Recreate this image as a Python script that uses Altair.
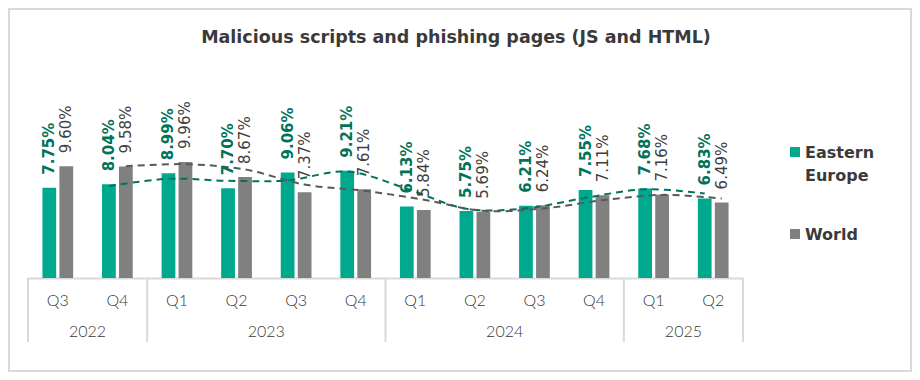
import altair as alt
import pandas as pd

# ---- data ----
quarters = ["Q3", "Q4", "Q1", "Q2", "Q3", "Q4", "Q1", "Q2", "Q3", "Q4", "Q1", "Q2"]
years = ["2022", "2022", "2023", "2023", "2023", "2023", "2024", "2024", "2024", "2024", "2025", "2025"]
eastern_europe = [7.75, 8.04, 8.99, 7.70, 9.06, 9.21, 6.13, 5.75, 6.21, 7.55, 7.68, 6.83]
world = [9.60, 9.58, 9.96, 8.67, 7.37, 7.61, 5.84, 5.69, 6.24, 7.11, 7.16, 6.49]
series_names = ["Eastern Europe", "World"]
year_labels = ["2022", "2023", "2024", "2025"]
year_center_key = ["2022 Q4", "2023 Q3", "2024 Q3", "2025 Q2"]
year_start_key = ["2022 Q3", "2023 Q1", "2024 Q1", "2025 Q1"]
last_key = ["2025 Q2"]

bar_colors = ["#00A88E", "#808080"]
label_colors = ["#00735A", "#404040"]
line_colors = ["#00735A", "#595959"]

keys = [f"{y} {q}" for y, q in zip(years, quarters)]
rows = []
for i, k in enumerate(keys):
    rows.append({"key": k, "idx": i, "series": series_names[0], "value": eastern_europe[i]})
    rows.append({"key": k, "idx": i, "series": series_names[1], "value": world[i]})
df = pd.DataFrame(rows)
years_df = pd.DataFrame({"year": year_labels, "anchor": year_center_key})
starts_df = pd.DataFrame({"start": year_start_key})
end_df = pd.DataFrame({"end": last_key})
one_df = pd.DataFrame({"a": [0]})

W, H = 715, 178
YMAX = 15.28
PAD = {"left": 20, "top": 92, "right": 169, "bottom": 94}

x_axis = alt.Axis(
    title=None,
    labelExpr="split(datum.value, ' ')[1]",
    ticks=False,
    tickSize=0,
    domainColor="#D9D9D9",
    domainWidth=2,
    labelFont="Lato",
    labelFontSize=16,
    labelFontWeight=300,
    labelColor="#383838",
    labelBaseline="middle",
    labelPadding=22,
    labelAngle=0,
)
x_scale = alt.Scale(paddingInner=0, paddingOuter=0)


def xenc(field, band=None):
    kw = {}
    if band is not None:
        kw["bandPosition"] = band
    return alt.X(f"{field}:N", sort=keys, scale=x_scale, axis=x_axis, **kw)


xo = alt.XOffset("series:N", sort=series_names,
                 scale=alt.Scale(domain=series_names, paddingInner=0.19, paddingOuter=0.85))
y_scale = alt.Scale(domain=[0, YMAX])

base = alt.Chart(df)

bars = base.mark_bar().encode(
    x=xenc("key"), xOffset=xo,
    y=alt.Y("value:Q", scale=y_scale, axis=None),
    color=alt.Color("series:N", scale=alt.Scale(domain=series_names, range=bar_colors), legend=None),
)


def trend(i):
    return (
        base.transform_filter(f"datum.series == '{series_names[i]}'")
        .transform_window(ma="mean(value)", frame=[-1, 0], sort=[alt.SortField("idx")])
        .transform_filter("datum.idx > 0")
        .mark_line(strokeDash=[7, 5], strokeWidth=2, interpolate="catmull-rom", color=line_colors[i])
        .encode(x=xenc("key"), xOffset=xo, y=alt.Y("ma:Q", scale=y_scale, axis=None))
    )


def labels(i, weight):
    return (
        base.transform_filter(f"datum.series == '{series_names[i]}'")
        .transform_calculate(label="format(datum.value, '.2f') + '%'")
        .mark_text(angle=270, align="left", baseline="middle", dx=13, font="DejaVu Sans",
                   fontSize=15, fontWeight=weight, color=label_colors[i])
        .encode(x=xenc("key"), xOffset=xo, y=alt.Y("value:Q", scale=y_scale, axis=None), text="label:N")
    )


year_text = alt.Chart(years_df).mark_text(
    font="Lato", fontSize=16, fontWeight=300, color="#383838", baseline="middle", align="center"
).encode(x=xenc("anchor", 0), y=alt.value(H + 54), text="year:N")

sep_start = alt.Chart(starts_df).mark_rule(color="#D9D9D9", strokeWidth=2).encode(
    x=xenc("start", 0), y=alt.value(H), y2=alt.value(H + 64))
sep_end = alt.Chart(end_df).mark_rule(color="#D9D9D9", strokeWidth=2).encode(
    x=xenc("end", 1), y=alt.value(H), y2=alt.value(H + 64))

title = alt.Chart(one_df).mark_text(
    text="Malicious scripts and phishing pages (JS and HTML)",
    font="DejaVu Sans", fontSize=17.5, fontWeight="bold", color="#3A3A3A",
    align="center", baseline="middle",
).encode(x=alt.value(428), y=alt.value(-62))

border = alt.Chart(one_df).mark_rect(fillOpacity=0, stroke="#D9D9D9", strokeWidth=2).encode(
    x=alt.value(-PAD["left"] + 1), x2=alt.value(W + PAD["right"] - 1),
    y=alt.value(-PAD["top"] + 1), y2=alt.value(H + PAD["bottom"] - 1))

leg_sq_ee = alt.Chart(one_df).mark_square(size=100, color=bar_colors[0], opacity=1).encode(
    x=alt.value(767), y=alt.value(52))
leg_sq_w = alt.Chart(one_df).mark_square(size=100, color=bar_colors[1], opacity=1).encode(
    x=alt.value(767), y=alt.value(134))
leg_tx_ee = alt.Chart(one_df).mark_text(
    text=["Eastern", "Europe"], lineHeight=23, font="DejaVu Sans", fontSize=16, fontWeight="bold",
    color="#3A3A3A", align="left", baseline="alphabetic").encode(x=alt.value(777), y=alt.value(58))
leg_tx_w = alt.Chart(one_df).mark_text(
    text="World", font="DejaVu Sans", fontSize=16, fontWeight="bold",
    color="#3A3A3A", align="left", baseline="alphabetic").encode(x=alt.value(777), y=alt.value(140))

chart = alt.layer(
    border, bars, trend(0), trend(1), labels(0, "bold"), labels(1, "normal"),
    sep_start, sep_end, year_text, title, leg_sq_ee, leg_sq_w, leg_tx_ee, leg_tx_w,
).properties(
    width=W, height=H, autosize=alt.AutoSizeParams(type="none"), padding=PAD, background="white"
).configure_view(stroke=None)

chart.save("out.html", embed_options={"renderer": "svg", "actions": False})
